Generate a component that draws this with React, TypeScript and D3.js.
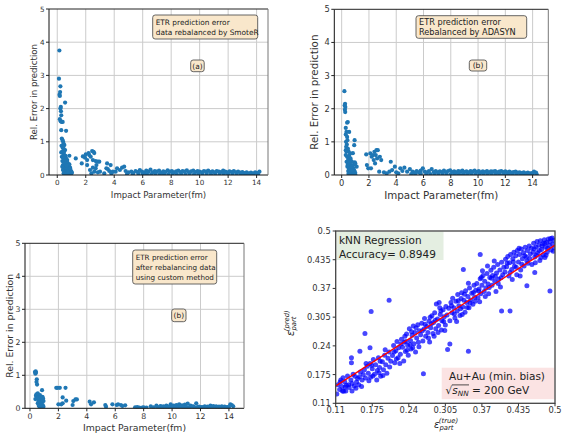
import React from 'react';
import * as d3 from 'd3';

type P = [number, number];

// ---------- Panel (a): SmoteR ----------
const smoteNear: P[] = [
  [0.15,3.75],[0.12,2.9],[0.22,2.67],[0.2,2.5],[0.16,2.42],[0.18,2.38],[0.25,2.05],[0.22,2.0],[0.26,1.92],[0.28,1.8],
  [0.55,2.18],[0.18,1.68],[0.24,1.62],[0.3,1.6],[0.38,1.6],[0.28,1.35],[0.62,1.33],[0.32,1.1],[0.36,1.06],[0.4,1.02],
  [0.44,0.95],[0.5,0.9],[0.3,0.88],[0.38,0.82],[0.46,0.78],[0.55,0.75],[0.35,0.7],[0.28,0.68],[0.42,0.65],[0.5,0.6],
  [0.58,0.58],[0.85,0.58],[0.32,0.55],[0.4,0.52],[0.48,0.5],[0.6,0.48],[0.7,0.45],[0.36,0.42],[0.45,0.4],[0.55,0.38],
  [0.65,0.36],[0.75,0.35],[0.85,0.32],[0.4,0.3],[0.5,0.28],[0.6,0.27],[0.7,0.25],[0.8,0.24],[0.9,0.22],[0.45,0.2],
  [0.55,0.18],[0.65,0.17],[0.75,0.16],[0.85,0.15],[0.95,0.12],[0.5,0.1],[0.6,0.09],[0.7,0.08],[0.8,0.07],[0.9,0.06],
  [1.0,0.05],[0.45,0.05],[0.55,0.03],[0.65,0.02],[0.75,0.03],[0.85,0.02],[0.95,0.03],[0.62,0.5],[0.68,0.4],[0.72,0.3],
  [0.78,0.2],[0.82,0.1],[0.88,0.08],[0.92,0.15],[0.98,0.1],[1.02,0.08],[0.4,0.15],[0.35,0.25],[0.52,0.44],[0.58,0.32],
  [0.62,0.22],[0.68,0.12],[0.72,0.05],[0.8,0.3],[0.48,0.7],[0.42,0.85],[0.52,0.35],[0.66,0.28],[0.76,0.1],[0.9,0.2]
];
const smoteMid: P[] = [
  [1.3,0.5],[1.72,0.35],[1.8,0.56],[1.95,0.52],[2.0,0.62],[2.1,0.45],[2.2,0.66],[2.25,0.6],[2.45,0.72],[2.55,0.7],
  [2.6,0.66],[2.35,0.55],[2.5,0.45],[2.7,0.42],[2.85,0.4],[2.95,0.4],[2.75,0.3],[2.5,0.22],[2.3,0.15],[2.6,0.1],
  [2.85,0.08],[2.7,0.2],[2.1,0.3],[3.5,0.35],[3.75,0.3],[3.55,0.18],[3.65,0.12],[3.9,0.1],[3.45,0.2],[4.2,0.2],
  [4.55,0.22],[4.4,0.15],[4.7,0.25],[4.1,0.1],[3.8,0.05],[3.3,0.05],[3.0,0.1],[2.4,0.05]
];
const smoteBand: P[] = [
  [4.8,0.12],[5.0,0.08],[5.2,0.1],[5.35,0.06],[5.5,0.12],[5.65,0.09],[5.8,0.15],[5.95,0.1],[6.1,0.07],[6.25,0.13],
  [6.4,0.1],[6.55,0.16],[6.7,0.08],[6.85,0.12],[7.0,0.1],[7.15,0.13],[7.3,0.07],[7.45,0.11],[7.6,0.09],[7.75,0.14],
  [7.9,0.1],[8.05,0.12],[8.2,0.08],[8.35,0.11],[8.5,0.13],[8.65,0.09],[8.8,0.12],[8.95,0.1],[9.1,0.14],[9.25,0.08],
  [9.4,0.11],[9.55,0.13],[9.7,0.09],[9.85,0.12],[10.0,0.1],[10.15,0.08],[10.3,0.12],[10.45,0.1],[10.6,0.13],[10.75,0.09],
  [10.9,0.11],[11.05,0.08],[11.2,0.12],[11.35,0.1],[11.5,0.09],[11.65,0.13],[11.8,0.1],[11.95,0.08],[12.1,0.11],[12.25,0.09],
  [12.4,0.12],[12.55,0.08],[12.7,0.1],[12.85,0.07],[13.0,0.09],[13.15,0.06],[13.3,0.08],[13.45,0.05],[13.6,0.07],[13.75,0.05],
  [13.9,0.08],[14.05,0.06],[14.2,0.1],
  [4.9,0.03],[5.3,0.02],[5.7,0.04],[6.0,0.02],[6.3,0.03],[6.6,0.02],[6.9,0.04],[7.2,0.02],[7.5,0.03],[7.8,0.02],
  [8.1,0.04],[8.4,0.02],[8.7,0.03],[9.0,0.02],[9.3,0.04],[9.6,0.02],[9.9,0.03],[10.2,0.02],[10.5,0.04],[10.8,0.02],
  [11.1,0.03],[11.4,0.02],[11.7,0.04],[12.0,0.02],[12.3,0.03],[12.6,0.02],[12.9,0.03],[13.2,0.02],[13.5,0.02],[13.8,0.03],[14.1,0.02]
];

// ---------- Panel (b): ADASYN ----------
const adasynNear: P[] = [
  [0.2,2.53],[0.25,2.15],[0.22,2.1],[0.27,2.05],[0.24,1.97],[0.26,1.9],[0.45,1.6],[0.4,1.58],[0.3,1.42],[0.55,1.3],
  [0.35,1.3],[0.3,1.22],[0.4,1.15],[0.95,1.05],[0.92,0.9],[0.38,0.92],[0.33,0.85],[0.45,0.8],[0.5,0.72],[0.62,0.65],
  [0.82,0.66],[0.3,0.6],[0.4,0.55],[0.5,0.5],[0.6,0.45],[0.7,0.42],[0.36,0.4],[0.46,0.36],[0.56,0.33],[0.66,0.3],
  [0.76,0.28],[0.86,0.3],[0.96,0.38],[0.42,0.25],[0.52,0.22],[0.62,0.2],[0.72,0.18],[0.82,0.16],[0.92,0.14],[0.48,0.12],
  [0.58,0.1],[0.68,0.08],[0.78,0.06],[0.88,0.05],[0.98,0.08],[0.5,0.04],[0.6,0.02],[0.7,0.03],[0.8,0.02],[0.9,0.03],
  [1.0,0.02],[1.1,0.25],[1.0,0.35],[0.35,0.7],[0.55,0.58],[0.65,0.5],[0.75,0.4],[0.85,0.2],[0.32,1.0],[0.42,1.05],
  [0.3,0.75],[0.44,0.3],[0.54,0.15],[0.64,0.12],[0.74,0.25],[0.84,0.1],[0.48,0.45],[0.58,0.38],[0.68,0.2],[0.78,0.14]
];
const adasynMid: P[] = [
  [1.8,0.62],[1.85,0.3],[1.95,0.2],[2.1,0.65],[2.2,0.55],[2.3,0.6],[2.4,0.7],[2.55,0.75],[2.65,0.75],[2.5,0.6],
  [2.15,0.2],[2.45,0.35],[2.8,0.55],[2.9,0.45],[2.75,0.1],[2.6,0.5],[2.35,0.45],[3.1,0.08],[3.6,0.4],[3.9,0.25],
  [3.7,0.15],[3.5,0.1],[3.3,0.05],[4.0,0.08],[4.3,0.2],[4.6,0.22],[4.45,0.12],[5.0,0.18],[4.8,0.1],[4.15,0.05]
];
const adasynBand: P[] = [
  [5.2,0.1],[5.35,0.07],[5.5,0.12],[5.65,0.08],[5.8,0.13],[5.95,0.2],[6.1,0.1],[6.25,0.07],[6.4,0.12],[6.6,0.18],
  [6.75,0.09],[6.9,0.12],[7.05,0.08],[7.2,0.11],[7.35,0.09],[7.5,0.13],[7.65,0.08],[7.8,0.12],[7.95,0.14],[8.1,0.09],
  [8.25,0.11],[8.4,0.08],[8.55,0.12],[8.7,0.1],[8.85,0.13],[9.0,0.09],[9.15,0.11],[9.3,0.08],[9.45,0.12],[9.6,0.1],
  [9.75,0.13],[9.9,0.09],[10.05,0.12],[10.2,0.08],[10.35,0.11],[10.5,0.09],[10.65,0.12],[10.8,0.08],[10.95,0.11],[11.1,0.1],
  [11.25,0.12],[11.4,0.08],[11.55,0.1],[11.7,0.12],[11.85,0.09],[12.0,0.11],[12.15,0.08],[12.3,0.1],[12.45,0.07],[12.6,0.09],
  [12.75,0.1],[12.9,0.07],[13.05,0.08],[13.2,0.06],[13.35,0.08],[13.5,0.05],[13.65,0.07],[13.8,0.05],[13.95,0.06],[14.1,0.1],[14.25,0.07],
  [5.1,0.03],[5.4,0.02],[5.8,0.04],[6.2,0.02],[6.5,0.03],[6.8,0.02],[7.1,0.04],[7.4,0.02],[7.7,0.03],[8.0,0.02],
  [8.3,0.04],[8.6,0.02],[8.9,0.03],[9.2,0.02],[9.5,0.04],[9.8,0.02],[10.1,0.03],[10.4,0.02],[10.7,0.04],[11.0,0.02],
  [11.3,0.03],[11.6,0.02],[11.9,0.04],[12.2,0.02],[12.5,0.03],[12.8,0.02],[13.1,0.03],[13.4,0.02],[13.7,0.02],[14.0,0.03],[14.3,0.02]
];

// ---------- Panel (c): custom method ----------
const customNear: P[] = [
  [0.35,1.1],[0.4,1.12],[0.42,1.08],[0.38,1.05],[0.48,0.88],[0.46,0.8],[0.5,0.72],[0.38,0.28],[0.42,0.38],[0.45,0.42],
  [0.55,0.45],[0.58,0.3],[0.62,0.35],[0.7,0.25],[0.85,0.55],[0.88,0.35],[0.92,0.3],[0.95,0.22],[0.75,0.15],[0.65,0.1],
  [0.8,0.05],[0.6,0.2],[0.7,0.4],[0.78,0.3],[0.85,0.2],[0.9,0.1],[0.95,0.05],[0.55,0.15],[0.5,0.3],[0.68,0.05],
  [0.72,0.18],[0.82,0.12],[0.88,0.25],[0.62,0.08],[0.75,0.35]
];
const customFar: P[] = [
  [1.85,0.62],[1.95,0.62],[2.1,0.62],[2.5,0.62],[2.0,0.12],[2.2,0.12],[2.3,0.33],[2.55,0.23],[2.3,0.15],[3.0,0.1],
  [3.05,0.22],[3.2,0.27],[3.3,0.27],[4.2,0.2],[4.3,0.12],[4.5,0.18],[5.3,0.1],[5.35,0.05],[5.8,0.12],[6.1,0.1],
  [6.2,0.12],[6.4,0.1],[6.5,0.07],[6.7,0.09],[7.4,0.03],[7.55,0.04],[7.7,0.02],[8.0,0.03],[8.5,0.06],[8.9,0.08],
  [9.2,0.07],[9.4,0.06],[9.6,0.08],[9.9,0.12],[10.1,0.08],[10.3,0.1],[10.5,0.12],[10.7,0.09],[10.9,0.11],[11.1,0.14],
  [11.3,0.08],[11.5,0.06],[11.7,0.15],[11.9,0.05],[12.1,0.04],[12.3,0.06],[12.5,0.05],[12.7,0.08],[12.9,0.07],[13.1,0.06],
  [13.3,0.05],[13.5,0.06],[13.7,0.05],[13.9,0.04],[14.1,0.12],[14.2,0.1],[14.3,0.06],
  [9.0,0.03],[9.15,0.05],[9.3,0.03],[9.5,0.04],[9.7,0.03],[9.8,0.05],[10.0,0.03],[10.2,0.04],[10.4,0.03],[10.6,0.05],
  [10.8,0.03],[11.0,0.04],[11.2,0.03],[11.4,0.05],[11.6,0.03],[11.8,0.04],[12.0,0.03],[12.2,0.03],[12.4,0.04],[12.6,0.03],
  [12.8,0.04],[13.0,0.03],[13.2,0.04],[13.4,0.03],[13.6,0.04],[13.8,0.03],[14.0,0.04],[8.7,0.03],[8.2,0.02],[7.9,0.02]
];

const errXTicks = [0, 2, 4, 6, 8, 10, 12, 14];
const errYTicks = [0, 1, 2, 3, 4, 5];

// ---------- Panel (d): kNN regression (true, predicted) ----------
const knnLow: P[] = [
  [0.112,0.131],[0.114,0.152],[0.117,0.141],[0.119,0.163],[0.121,0.148],[0.124,0.137],[0.126,0.159],[0.129,0.151],[0.131,0.172],[0.134,0.146],
  [0.137,0.163],[0.139,0.155],[0.143,0.149],[0.144,0.171],[0.147,0.158],[0.149,0.166],[0.151,0.152],[0.154,0.181],[0.157,0.163],[0.159,0.175],
  [0.118,0.158],[0.123,0.168],[0.128,0.138],[0.133,0.152],[0.141,0.176],[0.146,0.144],[0.152,0.17],[0.156,0.148],[0.139,0.138],[0.127,0.147],
  [0.161,0.186],[0.163,0.167],[0.166,0.194],[0.168,0.178],[0.171,0.2],[0.172,0.169],[0.175,0.188],[0.177,0.209],[0.179,0.176],[0.181,0.197],
  [0.184,0.184],[0.186,0.213],[0.188,0.191],[0.19,0.171],[0.193,0.204],[0.195,0.186],[0.197,0.219],[0.199,0.197],[0.201,0.178],[0.203,0.212],
  [0.205,0.226],[0.206,0.192],[0.208,0.205],[0.164,0.2],[0.169,0.161],[0.174,0.196],[0.183,0.163],[0.189,0.205],[0.194,0.173],[0.198,0.231],
  [0.176,0.172],[0.187,0.179]
];
const knnMid: P[] = [
  [0.211,0.218],[0.213,0.241],[0.215,0.202],[0.217,0.229],[0.219,0.25],[0.221,0.213],[0.222,0.236],[0.225,0.221],[0.227,0.255],[0.229,0.237],
  [0.231,0.206],[0.232,0.248],[0.234,0.227],[0.236,0.267],[0.238,0.241],[0.239,0.219],[0.241,0.279],[0.243,0.252],[0.244,0.233],[0.246,0.264],
  [0.248,0.285],[0.249,0.245],[0.251,0.27],[0.252,0.226],[0.254,0.258],[0.256,0.288],[0.257,0.248],[0.259,0.274],[0.214,0.226],[0.218,0.21],
  [0.226,0.244],[0.233,0.262],[0.237,0.23],[0.242,0.243],[0.247,0.236],[0.253,0.281],[0.258,0.238],[0.224,0.2],[0.235,0.25],[0.245,0.272],
  [0.261,0.265],[0.263,0.291],[0.265,0.251],[0.267,0.278],[0.268,0.302],[0.27,0.262],[0.272,0.284],[0.274,0.27],[0.276,0.296],[0.277,0.249],
  [0.279,0.281],[0.281,0.308],[0.283,0.268],[0.284,0.293],[0.286,0.315],[0.288,0.279],[0.289,0.335],[0.291,0.301],[0.293,0.286],[0.294,0.338],
  [0.296,0.311],[0.298,0.276],[0.299,0.297],[0.301,0.322],[0.303,0.306],[0.305,0.287],[0.306,0.329],[0.308,0.31],[0.264,0.274],[0.269,0.289],
  [0.275,0.258],[0.28,0.29],[0.287,0.298],[0.292,0.27],[0.297,0.319],[0.302,0.295],[0.278,0.305],[0.285,0.262],[0.295,0.326],[0.304,0.275],
  [0.311,0.325],[0.313,0.297],[0.315,0.338],[0.317,0.315],[0.318,0.348],[0.32,0.326],[0.322,0.303],[0.324,0.341],[0.326,0.319],[0.327,0.356],
  [0.329,0.331],[0.331,0.309],[0.333,0.347],[0.334,0.36],[0.336,0.328],[0.338,0.343],[0.34,0.316],[0.341,0.365],[0.343,0.338],[0.345,0.352],
  [0.347,0.326],[0.348,0.371],[0.35,0.344],[0.352,0.359],[0.354,0.334],[0.356,0.377],[0.357,0.35],[0.359,0.366],[0.316,0.331],[0.321,0.312],
  [0.328,0.342],[0.335,0.311],[0.339,0.357],[0.344,0.327],[0.349,0.337],[0.355,0.361],[0.358,0.341],[0.325,0.295],[0.332,0.324],[0.346,0.382]
];
const knnHigh: P[] = [
  [0.361,0.381],[0.363,0.349],[0.365,0.369],[0.367,0.392],[0.368,0.358],[0.37,0.377],[0.372,0.399],[0.374,0.363],[0.375,0.386],[0.377,0.371],
  [0.379,0.404],[0.381,0.38],[0.382,0.358],[0.384,0.395],[0.386,0.411],[0.388,0.377],[0.389,0.399],[0.391,0.418],[0.393,0.386],[0.395,0.363],
  [0.396,0.405],[0.398,0.424],[0.4,0.391],[0.402,0.412],[0.403,0.373],[0.405,0.429],[0.407,0.401],[0.409,0.418],[0.364,0.364],[0.369,0.395],
  [0.376,0.352],[0.383,0.372],[0.387,0.393],[0.394,0.397],[0.399,0.381],[0.404,0.394],[0.371,0.41],[0.392,0.432],[0.38,0.421],[0.366,0.34],
  [0.411,0.407],[0.412,0.436],[0.414,0.419],[0.416,0.442],[0.418,0.398],[0.419,0.428],[0.421,0.447],[0.423,0.413],[0.425,0.437],[0.427,0.452],
  [0.428,0.42],[0.43,0.444],[0.432,0.401],[0.433,0.456],[0.435,0.43],[0.437,0.447],[0.439,0.412],[0.44,0.459],[0.442,0.437],[0.444,0.451],
  [0.445,0.421],[0.447,0.463],[0.449,0.441],[0.451,0.456],[0.452,0.427],[0.454,0.466],[0.456,0.448],[0.458,0.461],[0.415,0.427],[0.42,0.406],
  [0.426,0.43],[0.431,0.418],[0.436,0.461],[0.441,0.425],[0.446,0.444],[0.45,0.432],[0.455,0.438],[0.459,0.424],[0.424,0.39],[0.438,0.398],
  [0.461,0.452],[0.462,0.472],[0.464,0.441],[0.466,0.464],[0.468,0.476],[0.469,0.451],[0.471,0.468],[0.473,0.433],[0.474,0.478],[0.476,0.458],
  [0.478,0.471],[0.479,0.446],[0.481,0.48],[0.483,0.463],[0.485,0.474],[0.486,0.452],[0.488,0.482],[0.49,0.467],[0.491,0.476],[0.493,0.457],
  [0.495,0.484],[0.496,0.47],[0.498,0.479],[0.499,0.462],[0.463,0.46],[0.467,0.445],[0.472,0.456],[0.477,0.466],[0.482,0.472],[0.487,0.461],
  [0.492,0.483],[0.497,0.454],[0.465,0.428],[0.475,0.44],[0.484,0.445]
];
const knnOutliers: P[] = [
  [0.367,0.447],[0.205,0.343],[0.173,0.318],[0.162,0.268],[0.266,0.177],[0.346,0.228],[0.309,0.232],[0.313,0.244],[0.45,0.376],[0.491,0.364],
  [0.405,0.319],[0.42,0.319],[0.482,0.44],[0.337,0.413],[0.464,0.406],[0.153,0.228],[0.171,0.236],[0.138,0.213],[0.138,0.202],[0.122,0.138]
];
const knnTicks = [0.11, 0.175, 0.24, 0.305, 0.37, 0.435, 0.5];
const knnTickLabels = ['0.11', '0.175', '0.24', '0.305', '0.37', '0.435', '0.5'];
const fitLine: P[] = [[0.1095, 0.149], [0.5, 0.468]];

const BLUE = '#1f77b4';
const FONT = 'DejaVu Sans';

interface PanelProps {
  id: string;
  series: P[][];
  left: number; right: number; top: number; bottom: number;
  xDomain: [number, number];
  tickFont: number; labelFont: number;
  ylabelX: number; xlabelY: number;
  boxLines: string[]; box: [number, number, number, number]; boxFont: number; boxLineH: number;
  tag: string; tagBox: [number, number, number, number]; tagFont: number;
  r: number;
}

function ErrorPanel(p: PanelProps) {
  const x = d3.scaleLinear().domain(p.xDomain).range([p.left, p.right]);
  const y = d3.scaleLinear().domain([0, 5]).range([p.bottom, p.top]);
  const [bx, by, bw, bh] = p.box;
  const [tx, ty, tw, th] = p.tagBox;
  const cx = (p.left + p.right) / 2;
  const cy = (p.top + p.bottom) / 2;
  const nLines = p.boxLines.length;
  return (
    <g>
      <defs>
        <clipPath id={p.id}>
          <rect x={p.left} y={p.top} width={p.right - p.left} height={p.bottom - p.top} />
        </clipPath>
      </defs>
      {errXTicks.map(t => (
        <line key={'gx' + t} x1={x(t)} x2={x(t)} y1={p.top} y2={p.bottom} stroke="#cbcbcb" strokeWidth={1} />
      ))}
      {errYTicks.slice(1, 5).map(t => (
        <line key={'gy' + t} x1={p.left} x2={p.right} y1={y(t)} y2={y(t)} stroke="#cbcbcb" strokeWidth={1} />
      ))}
      <g clipPath={`url(#${p.id})`}>
        {p.series.flat().map((d, i) => (
          <circle key={i} cx={x(d[0])} cy={y(d[1])} r={p.r} fill={BLUE} />
        ))}
      </g>
      <line x1={p.left} x2={p.left} y1={p.top} y2={p.bottom} stroke="#111" strokeWidth={1} />
      <line x1={p.left} x2={p.right} y1={p.bottom} y2={p.bottom} stroke="#111" strokeWidth={1} />
      <line x1={p.left} x2={p.right} y1={p.top} y2={p.top} stroke="#222" strokeWidth={1} />
      <line x1={p.right} x2={p.right} y1={p.top} y2={p.bottom} stroke="#777" strokeWidth={1} />
      {errXTicks.map(t => (
        <g key={'tx' + t}>
          <line x1={x(t)} x2={x(t)} y1={p.bottom} y2={p.bottom + 3} stroke="#222" />
          <text x={x(t)} y={p.bottom + 4 + p.tickFont * 0.85} fontSize={p.tickFont} textAnchor="middle" fill="#333">{t}</text>
        </g>
      ))}
      {errYTicks.map(t => (
        <g key={'ty' + t}>
          <line x1={p.left - 3} x2={p.left} y1={y(t)} y2={y(t)} stroke="#222" />
          <text x={p.left - 4.5} y={y(t) + p.tickFont * 0.36} fontSize={p.tickFont} textAnchor="end" fill="#333">{t}</text>
        </g>
      ))}
      <text x={cx} y={p.xlabelY} fontSize={p.labelFont} textAnchor="middle" fill="#333">Impact Parameter(fm)</text>
      <text transform={`translate(${p.ylabelX},${cy}) rotate(-90)`} fontSize={p.labelFont} textAnchor="middle" fill="#333">Rel. Error in prediction</text>
      <rect x={bx} y={by} width={bw} height={bh} rx={2.5} fill="#f9e7cb" stroke="#555" strokeWidth={0.9} />
      {p.boxLines.map((s, i) => (
        <text key={s} x={bx + 3} y={by + bh / 2 + (i - (nLines - 1) / 2) * p.boxLineH + p.boxFont * 0.36} fontSize={p.boxFont} fill="#222">{s}</text>
      ))}
      <rect x={tx} y={ty} width={tw} height={th} rx={2.5} fill="#f9e7cb" stroke="#555" strokeWidth={0.9} />
      <text x={tx + tw / 2} y={ty + th / 2 + p.tagFont * 0.36} fontSize={p.tagFont} textAnchor="middle" fill="#222">{p.tag}</text>
    </g>
  );
}

function KnnPanel() {
  const left = 335.7, right = 555, top = 231, bottom = 403.3;
  const x = d3.scaleLinear().domain([0.11, 0.5]).range([left, right]);
  const y = d3.scaleLinear().domain([0.11, 0.5]).range([bottom, top]);
  const line = d3.line<P>().x(d => x(d[0])).y(d => y(d[1]));
  const tf = 8.3;
  const pts = [...knnLow, ...knnMid, ...knnHigh, ...knnOutliers];
  const sx = 445.5, sy = 393.5, bf = 10.5;
  return (
    <g>
      <defs>
        <clipPath id="knnclip">
          <rect x={left} y={top} width={right - left} height={bottom - top} />
        </clipPath>
      </defs>
      <rect x={336.5} y={231.5} width={107} height={28.5} fill="#e4eee1" />
      <rect x={441.7} y={367.7} width={112.5} height={31.5} fill="#fbe3e3" />
      <g clipPath="url(#knnclip)">
        {pts.map((d, i) => (
          <circle key={i} cx={x(d[0])} cy={y(d[1])} r={2.5} fill="#0000ff" fillOpacity={0.72} />
        ))}
        <path d={line(fitLine) || ''} stroke="#ff0000" strokeWidth={1.4} fill="none" />
      </g>
      <text x={339} y={244} fontSize={bf} fill="#222">kNN Regression</text>
      <text x={339} y={257.5} fontSize={bf} fill="#222">Accuracy= 0.8949</text>
      <text x={449} y={379.5} fontSize={bf} fill="#222">Au+Au (min. bias)</text>
      <text x={sx} y={sy} fontSize={bf} fill="#222">
        <tspan>√</tspan>
        <tspan fontStyle="italic">s</tspan>
        <tspan fontStyle="italic" fontSize={7.3} dy={2.2}>NN</tspan>
        <tspan dy={-2.2}> = 200 GeV</tspan>
      </text>
      <line x1={sx + 6.4} x2={sx + 23.5} y1={sy - 8.6} y2={sy - 8.6} stroke="#222" strokeWidth={0.8} />
      <rect x={left} y={top} width={right - left} height={bottom - top} fill="none" stroke="#444" strokeWidth={1.3} />
      {knnTicks.map((t, i) => (
        <g key={'kx' + t}>
          <line x1={x(t)} x2={x(t)} y1={bottom} y2={bottom + 3} stroke="#333" />
          <text x={x(t)} y={bottom + 9.2} fontSize={tf} textAnchor="middle" fill="#333">{knnTickLabels[i]}</text>
          <line x1={left - 3} x2={left} y1={y(t)} y2={y(t)} stroke="#333" />
          <text x={left - 5} y={y(t) + tf * 0.36} fontSize={tf} textAnchor="end" fill="#333">{knnTickLabels[i]}</text>
        </g>
      ))}
      <text x={434} y={428} fontSize={10} fill="#222">
        <tspan fontStyle="italic">ε</tspan>
        <tspan fontSize={6.8} fontStyle="italic" dy={2.3}>part</tspan>
        <tspan fontSize={6.8} fontStyle="italic" dx={-14.5} dy={-7.6}>(true)</tspan>
      </text>
      <text transform={`translate(294,336) rotate(-90)`} fontSize={10} fill="#222">
        <tspan fontStyle="italic">ε</tspan>
        <tspan fontSize={6.8} fontStyle="italic" dy={2.3}>part</tspan>
        <tspan fontSize={6.8} fontStyle="italic" dx={-14.5} dy={-7.6}>(pred)</tspan>
      </text>
    </g>
  );
}

export default function App() {
  return (
    <svg width={563} height={433} viewBox="0 0 563 433" fontFamily={FONT}
      style={{ position: 'absolute', left: 0, top: 0, display: 'block', background: '#fff' }}>
      <rect x={0} y={0} width={563} height={433} fill="#fff" />
      <ErrorPanel id="c1" series={[smoteNear, smoteMid, smoteBand]}
        left={49} right={268} top={9} bottom={175} xDomain={[-0.58, 14.8]}
        tickFont={7.2} labelFont={8.6} ylabelX={37} xlabelY={198}
        boxLines={['ETR prediction error', 'data rebalanced by SmoteR']} box={[152.7, 15, 105, 24]} boxFont={7.4} boxLineH={10}
        tag="(a)" tagBox={[190.7, 60, 13.5, 11.7]} tagFont={7.4} r={2.1} />
      <ErrorPanel id="c2" series={[adasynNear, adasynMid, adasynBand]}
        left={334.3} right={548.3} top={9.3} bottom={175} xDomain={[-0.54, 15.15]}
        tickFont={8.3} labelFont={10.3} ylabelX={318} xlabelY={199}
        boxLines={['ETR prediction error', 'Rebalanced by ADASYN']} box={[416, 15.7, 110.7, 22.6]} boxFont={8.2} boxLineH={10}
        tag="(b)" tagBox={[469.3, 60, 17.4, 11]} tagFont={7.6} r={2.1} />
      <ErrorPanel id="c3" series={[customNear, customFar]}
        left={25} right={244} top={243.3} bottom={408.3} xDomain={[-0.35, 15.06]}
        tickFont={7.8} labelFont={9.3} ylabelX={13} xlabelY={431}
        boxLines={['ETR prediction error', 'after rebalancing data', 'using custom method']} box={[132.7, 250, 84, 34]} boxFont={7.2} boxLineH={10}
        tag="(b)" tagBox={[171.7, 309, 14.3, 12.7]} tagFont={7.4} r={2.1} />
      <KnnPanel />
    </svg>
  );
}
